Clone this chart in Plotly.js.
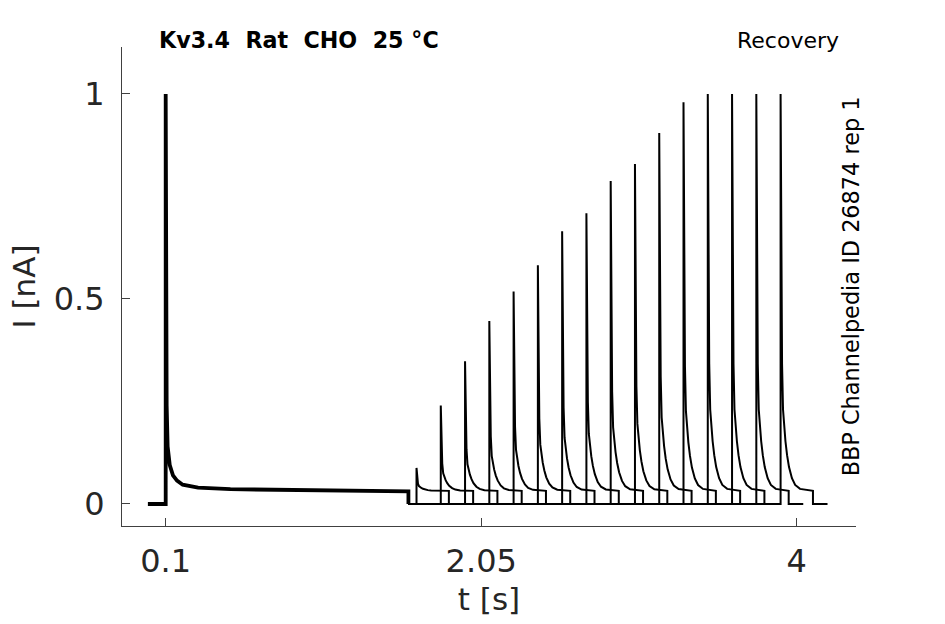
<!DOCTYPE html>
<html>
<head>
<meta charset="utf-8">
<script src="https://cdn.plot.ly/plotly-3.0.1.min.js"></script>
<style>
  html, body { margin: 0; padding: 0; background: #fff; }
  #chart { width: 945px; height: 624px; }
</style>
</head>
<body>
<div id="chart"></div>
<script>
// conditioning pulse (shared by all sweeps)
const cond_t = [-0.01, 0.1, 0.1, 0.103, 0.106, 0.112, 0.125, 0.145, 0.17, 0.205, 0.3, 0.5, 0.9, 1.3, 1.6, 1.6];
const cond_i = [0, 0, 1.0, 0.5, 0.24, 0.14, 0.095, 0.07, 0.057, 0.047, 0.04, 0.036, 0.034, 0.032, 0.031, 0];

// test pulses: start time and peak of each sweep
const test_start = [1.65, 1.80, 1.95, 2.10, 2.25, 2.40, 2.55, 2.70, 2.85, 3.00, 3.15, 3.30, 3.45, 3.60, 3.75, 3.90];
const test_peak = [0.088, 0.240, 0.348, 0.446, 0.518, 0.582, 0.665, 0.709, 0.788, 0.829, 0.905, 0.980, 1.0, 1.0, 1.0, 1.0];
const test_plateau = 0.032;

// decay of a test pulse (time after onset, fraction of peak above plateau)
const decay_dt = [0, 0.002, 0.005, 0.009, 0.015, 0.022, 0.03, 0.04, 0.052, 0.07, 0.09, 0.12, 0.2];
const decay_frac = [1, 0.75, 0.5, 0.32, 0.205, 0.16, 0.125, 0.09, 0.06, 0.032, 0.015, 0.005, 0];
const test_len = 0.2;
const tail_len = 0.09;

const x_ticks = [0.1, 2.05, 4];
const x_tick_text = ["0.1", "2.05", "4"];
const y_ticks = [0, 0.5, 1];
const y_tick_text = ["0", "0.5", "1"];

const make_sweep = (start, peak) => {
    const x = [1.6, start];
    const y = [0, 0];
    decay_dt.forEach((dt, k) => {
        x.push(start + dt);
        y.push(test_plateau + (peak - test_plateau) * decay_frac[k]);
    });
    x.push(start + test_len, start + test_len + tail_len);
    y.push(0, 0);
    return {
        x: x, y: y, mode: 'lines', hoverinfo: 'skip', showlegend: false,
        line: {color: '#000', width: 2}
    };
};

const data = [{
    x: cond_t, y: cond_i, mode: 'lines', hoverinfo: 'skip', showlegend: false,
    line: {color: '#000', width: 3.8}
}].concat(test_start.map((s, i) => make_sweep(s, test_peak[i])));

const font_main = 'DejaVu Sans, sans-serif';

const layout = {
    width: 945, height: 624,
    margin: {l: 122, r: 89, t: 47, b: 98},
    paper_bgcolor: '#fff', plot_bgcolor: '#fff',
    font: {family: font_main, color: '#262626'},
    xaxis: {
        range: [-0.170, 4.366],
        showgrid: false, zeroline: false,
        showline: true, linecolor: '#404040', linewidth: 1,
        ticks: 'inside', ticklen: 8, tickcolor: '#404040',
        tickvals: x_ticks, ticktext: x_tick_text,
        tickfont: {size: 32, color: '#262626'},
        ticklabelstandoff: 7,
        title: {text: 't [s]', font: {size: 31, color: '#262626'}, standoff: 8}
    },
    yaxis: {
        range: [-0.0537, 1.1146],
        showgrid: false, zeroline: false,
        showline: true, linecolor: '#404040', linewidth: 1,
        ticks: 'inside', ticklen: 8, tickcolor: '#404040',
        tickvals: y_ticks, ticktext: y_tick_text,
        tickfont: {size: 32, color: '#262626'},
        ticklabelstandoff: 10,
        title: {text: 'I [nA]', font: {size: 31, color: '#262626'}, standoff: 8}
    },
    annotations: [
        {
            text: '<b>Kv3.4  Rat  CHO  25 °C</b>', xref: 'paper', yref: 'paper',
            x: 0.0475, y: 1.0, xanchor: 'left', yanchor: 'bottom', yshift: -8,
            showarrow: false, font: {size: 22.2, color: '#000'}
        },
        {
            text: 'Recovery', xref: 'paper', yref: 'paper',
            x: 0.980, y: 1.0, xanchor: 'right', yanchor: 'bottom', yshift: -8,
            showarrow: false, font: {size: 22, color: '#000'}
        },
        {
            text: 'BBP Channelpedia ID 26874 rep 1', xref: 'paper', yref: 'paper',
            x: 0.993, y: 0.5, xanchor: 'center', yanchor: 'middle',
            textangle: -90, showarrow: false, font: {size: 22.4, color: '#000'}
        }
    ]
};

Plotly.newPlot('chart', data, layout, {displayModeBar: false, staticPlot: true});
</script>
</body>
</html>
